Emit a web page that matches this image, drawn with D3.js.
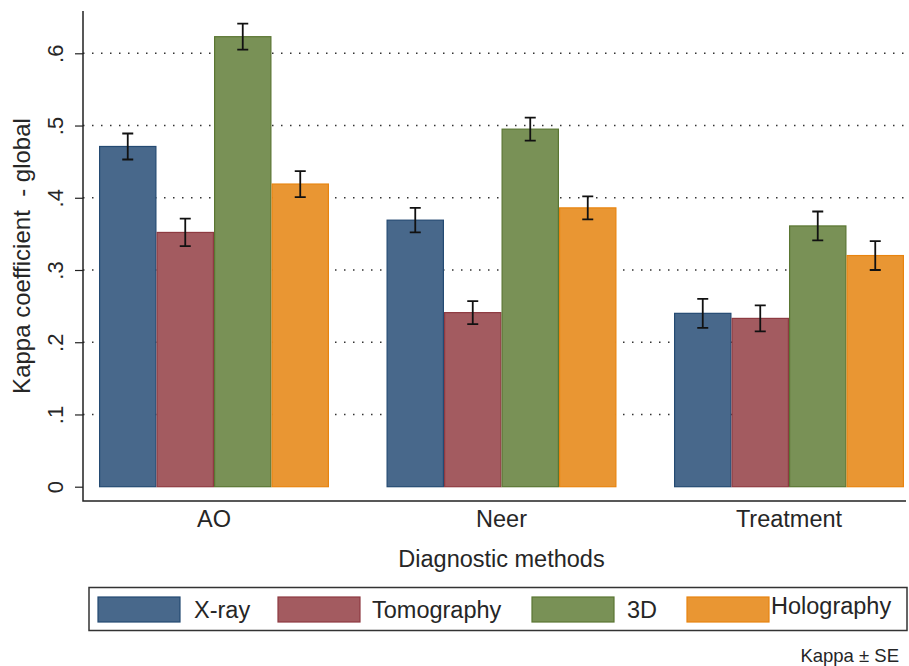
<!DOCTYPE html>
<html>
<head>
<meta charset="utf-8">
<script src="https://cdn.jsdelivr.net/npm/d3@7"></script>
<style>
  body { margin: 0; background: #fff; }
  svg text { font-family: "Liberation Sans", Arial, sans-serif; fill: #262626; }
</style>
</head>
<body>
<script>
// data
const groups = ["AO", "Neer", "Treatment"];
const series = ["X-ray", "Tomography", "3D", "Holography"];
const xray = [0.471, 0.369, 0.240];
const tomography = [0.352, 0.241, 0.233];
const threeD = [0.623, 0.495, 0.361];
const holography = [0.419, 0.386, 0.320];
const xraySE = [0.018, 0.017, 0.020];
const tomographySE = [0.019, 0.016, 0.018];
const threeDSE = [0.018, 0.016, 0.020];
const holographySE = [0.018, 0.016, 0.020];
const yTicks = [0, 0.1, 0.2, 0.3, 0.4, 0.5, 0.6];

const fills = ["#48688b", "#a35b60", "#799156", "#e99633"];
const strokes = ["#244a72", "#8e3a41", "#5a7632", "#e8840f"];

const values = [xray, tomography, threeD, holography];
const errors = [xraySE, tomographySE, threeDSE, holographySE];

const width = 909, height = 666;
const axisLeft = 83, axisBottom = 501, axisTop = 11, axisRight = 906;

const svg = d3.select("body").append("svg")
  .attr("width", width)
  .attr("height", height);

svg.append("rect").attr("width", width).attr("height", height).attr("fill", "#fff");

const y = d3.scaleLinear().domain([0, 0.6]).range([486.7, 53.3]);
const x0 = d3.scaleBand().domain(groups).range([99, 904]).paddingInner(0.2).paddingOuter(0);
const x1 = d3.scaleBand().domain(series).range([0, x0.bandwidth()]).padding(0);

// dotted grid lines
svg.append("g")
  .selectAll("line")
  .data(yTicks.filter(d => d > 0))
  .join("line")
  .attr("x1", axisLeft)
  .attr("x2", axisRight)
  .attr("y1", d => y(d))
  .attr("y2", d => y(d))
  .attr("stroke", "#333")
  .attr("stroke-width", 1.5)
  .attr("stroke-dasharray", "1.5,7.5");

// flatten into one record per bar
const bars = [];
groups.forEach((g, gi) => {
  series.forEach((s, si) => {
    bars.push({ group: g, series: s, si: si, value: values[si][gi], se: errors[si][gi] });
  });
});

const barG = svg.append("g");
barG.selectAll("rect")
  .data(bars)
  .join("rect")
  .attr("x", d => x0(d.group) + x1(d.series) + 0.6)
  .attr("y", d => y(d.value))
  .attr("width", x1.bandwidth() - 1.2)
  .attr("height", d => y(0) - y(d.value))
  .attr("fill", d => fills[d.si])
  .attr("stroke", d => strokes[d.si])
  .attr("stroke-width", 1.2);

// error bars: kappa +/- SE
const errG = svg.append("g").attr("stroke", "#111").attr("stroke-width", 1.8).attr("fill", "none");
const capHalf = 5.5;
bars.forEach(d => {
  const cx = x0(d.group) + x1(d.series) + x1.bandwidth() / 2;
  const hi = y(d.value + d.se), lo = y(d.value - d.se);
  errG.append("path")
    .attr("d", `M${cx},${hi}V${lo}M${cx - capHalf},${hi}H${cx + capHalf}M${cx - capHalf},${lo}H${cx + capHalf}`);
});

// y axis
const yAxis = svg.append("g")
  .attr("transform", `translate(${axisLeft},0)`)
  .call(d3.axisLeft(y)
    .tickValues(yTicks)
    .tickSize(8)
    .tickPadding(0)
    .tickFormat(d => d === 0 ? "0" : d3.format(".1f")(d).replace(/^0/, "")));
yAxis.select(".domain").remove();
yAxis.selectAll(".tick line").attr("stroke", "#222").attr("stroke-width", 1.2);
yAxis.selectAll(".tick text")
  .attr("x", null).attr("dy", null)
  .attr("transform", "translate(-20,0) rotate(-90)")
  .attr("text-anchor", "middle")
  .attr("font-size", 22)
  .style("fill", "#262626");

svg.append("path")
  .attr("d", `M${axisLeft},${axisTop}V${axisBottom}H${axisRight}`)
  .attr("fill", "none")
  .attr("stroke", "#222")
  .attr("stroke-width", 1.5);

// group labels
svg.append("g")
  .selectAll("text")
  .data(groups)
  .join("text")
  .attr("x", d => x0(d) + x0.bandwidth() / 2)
  .attr("y", 527)
  .attr("text-anchor", "middle")
  .attr("font-size", 23.5)
  .text(d => d);

// axis titles
svg.append("text")
  .attr("x", (99 + 904) / 2)
  .attr("y", 567)
  .attr("text-anchor", "middle")
  .attr("font-size", 23.5)
  .text("Diagnostic methods");

svg.append("text")
  .attr("transform", "translate(30,256) rotate(-90)")
  .attr("text-anchor", "middle")
  .attr("font-size", 24)
  .style("white-space", "pre")
  .text("Kappa coefficient  - global");

// legend
const legend = svg.append("g");
legend.append("rect")
  .attr("x", 89).attr("y", 587.5)
  .attr("width", 818).attr("height", 43)
  .attr("fill", "#fff")
  .attr("stroke", "#333")
  .attr("stroke-width", 1.5);

const legendX = [98, 278, 532, 687];
const legendTextX = [194, 372, 627, 771];
const legendTextY = [618, 618, 618, 614];
series.forEach((s, i) => {
  legend.append("rect")
    .attr("x", legendX[i]).attr("y", 597)
    .attr("width", 82).attr("height", 25)
    .attr("fill", fills[i])
    .attr("stroke", strokes[i])
    .attr("stroke-width", 1.2);
  legend.append("text")
    .attr("x", legendTextX[i])
    .attr("y", legendTextY[i])
    .attr("font-size", 23.5)
    .text(s);
});

svg.append("text")
  .attr("x", 899)
  .attr("y", 662)
  .attr("text-anchor", "end")
  .attr("font-size", 18.5)
  .text("Kappa \u00b1 SE");
</script>
</body>
</html>
